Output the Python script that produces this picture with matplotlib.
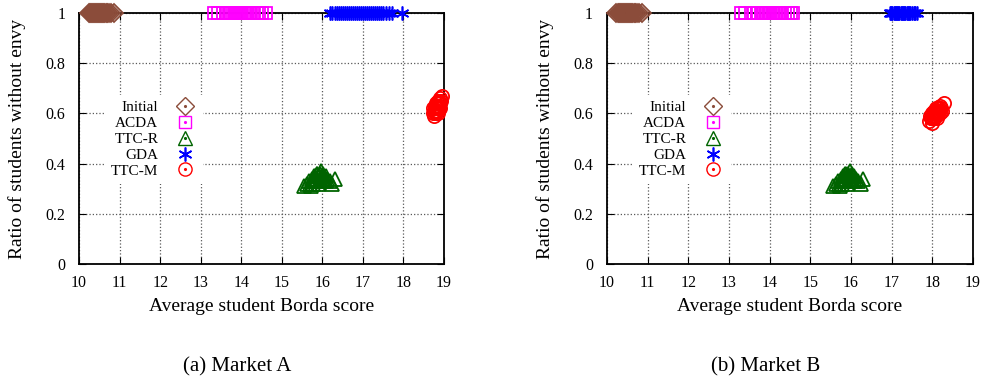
import matplotlib.pyplot as plt
from matplotlib.lines import Line2D
from matplotlib.legend_handler import HandlerTuple
from matplotlib.ticker import FuncFormatter

plt.rcParams['font.family'] = ['Liberation Serif', 'DejaVu Serif']

# ---- data ----
# Market A
initA_x = [10.25, 10.28, 10.3, 10.33, 10.35, 10.38, 10.4, 10.42, 10.45, 10.47, 10.5,
           10.52, 10.55, 10.57, 10.6, 10.62, 10.65, 10.68, 10.7, 10.74, 10.79, 10.86]
acdaA_x = [13.33, 13.42, 13.55, 13.62, 13.68, 13.72, 13.78, 13.82, 13.86, 13.9, 13.95,
           14.0, 14.05, 14.1, 14.15, 14.2, 14.25, 14.3, 14.38, 14.45, 14.52, 14.6]
gdaA_x = [16.2, 16.25, 16.3, 16.35, 16.4, 16.45, 16.5, 16.55, 16.6, 16.65, 16.7, 16.75,
          16.8, 16.85, 16.9, 16.95, 17.0, 17.05, 17.1, 17.15, 17.2, 17.25, 17.3, 17.35,
          17.4, 17.45, 17.5, 17.58, 17.65, 17.72, 17.97]
ttcrA_x = [15.55, 15.62, 15.68, 15.72, 15.75, 15.78, 15.8, 15.82, 15.85, 15.87, 15.9,
           15.92, 15.95, 15.97, 16.0, 16.02, 16.05, 16.08, 16.12, 16.18, 16.25, 16.3,
           15.7, 15.76, 15.83, 15.88, 15.93, 15.98, 16.03, 16.1, 15.79, 15.86, 15.94, 16.01]
ttcrA_y = [0.31, 0.32, 0.33, 0.31, 0.34, 0.32, 0.35, 0.33, 0.34, 0.36, 0.32, 0.35,
           0.33, 0.37, 0.34, 0.36, 0.33, 0.35, 0.34, 0.33, 0.32, 0.34,
           0.32, 0.33, 0.35, 0.34, 0.36, 0.35, 0.34, 0.33, 0.34, 0.36, 0.34, 0.35]
ttcmA_x = [18.72, 18.74, 18.76, 18.77, 18.78, 18.79, 18.8, 18.81, 18.82, 18.83, 18.84,
           18.85, 18.86, 18.87, 18.88, 18.89, 18.9, 18.92, 18.94,
           18.75, 18.78, 18.8, 18.83, 18.85, 18.87, 18.9, 18.8, 18.84, 18.88, 18.82]
ttcmA_y = [0.6, 0.62, 0.59, 0.61, 0.63, 0.6, 0.62, 0.64, 0.61, 0.63, 0.6, 0.65, 0.62,
           0.64, 0.63, 0.66, 0.64, 0.65, 0.67,
           0.61, 0.61, 0.63, 0.62, 0.63, 0.62, 0.62, 0.6, 0.64, 0.65, 0.61]

# Market B
initB_x = [10.22, 10.26, 10.3, 10.33, 10.35, 10.38, 10.4, 10.42, 10.45, 10.47, 10.5,
           10.52, 10.55, 10.57, 10.6, 10.62, 10.65, 10.68, 10.7, 10.74, 10.79, 10.85]
acdaB_x = [13.3, 13.4, 13.55, 13.62, 13.68, 13.72, 13.78, 13.82, 13.86, 13.9, 13.95,
           14.0, 14.05, 14.1, 14.15, 14.2, 14.25, 14.3, 14.38, 14.45, 14.52, 14.58]
gdaB_x = [16.95, 16.98, 17.02, 17.05, 17.08, 17.1, 17.13, 17.16, 17.19, 17.22, 17.25,
          17.28, 17.31, 17.34, 17.37, 17.4, 17.43, 17.46, 17.5, 17.54, 17.58, 17.62]
ttcrB_x = [15.55, 15.62, 15.68, 15.72, 15.75, 15.78, 15.8, 15.82, 15.85, 15.87, 15.9,
           15.92, 15.95, 15.97, 16.0, 16.02, 16.05, 16.08, 16.12, 16.18, 16.25, 16.3,
           15.7, 15.76, 15.83, 15.88, 15.93, 15.98, 16.03, 16.1, 15.79, 15.86, 15.94, 16.01]
ttcrB_y = [0.31, 0.32, 0.33, 0.31, 0.34, 0.32, 0.35, 0.33, 0.34, 0.36, 0.32, 0.35,
           0.33, 0.37, 0.34, 0.36, 0.33, 0.35, 0.34, 0.33, 0.32, 0.34,
           0.32, 0.33, 0.35, 0.34, 0.36, 0.35, 0.34, 0.33, 0.34, 0.36, 0.34, 0.35]
ttcmB_x = [17.92, 17.95, 17.97, 17.99, 18.0, 18.02, 18.03, 18.05, 18.06, 18.08, 18.1,
           18.11, 18.13, 18.15, 18.17, 18.19, 18.22, 18.25, 18.28,
           17.96, 18.0, 18.04, 18.07, 18.1, 18.14, 18.18, 18.02, 18.09, 18.16, 18.12]
ttcmB_y = [0.57, 0.59, 0.58, 0.6, 0.56, 0.59, 0.61, 0.58, 0.6, 0.62, 0.59, 0.61, 0.6,
           0.62, 0.61, 0.63, 0.62, 0.61, 0.64,
           0.58, 0.58, 0.6, 0.59, 0.6, 0.6, 0.6, 0.59, 0.61, 0.62, 0.58]

labels = ['Initial', 'ACDA', 'TTC-R', 'GDA', 'TTC-M']
colors = ['#8b4c3a', '#ff00ff', '#006400', '#0000ff', '#ff0000']
markers = ['D', 's', '^', '*', 'o']

markets = [
    [(initA_x, [1] * len(initA_x)), (acdaA_x, [1] * len(acdaA_x)), (ttcrA_x, ttcrA_y),
     (gdaA_x, [1] * len(gdaA_x)), (ttcmA_x, ttcmA_y)],
    [(initB_x, [1] * len(initB_x)), (acdaB_x, [1] * len(acdaB_x)), (ttcrB_x, ttcrB_y),
     (gdaB_x, [1] * len(gdaB_x)), (ttcmB_x, ttcmB_y)],
]
captions = ['(a) Market A', '(b) Market B']

fig = plt.figure(figsize=(9.88, 3.82), dpi=100)
ax_pos = [[0.080, 0.309, 0.3694, 0.657], [0.6144, 0.309, 0.3704, 0.657]]
cap_x = [0.240, 0.775]


def marker_kw(i, lw=1.3):
    m = markers[i]
    if m == '*':
        # gnuplot style asterisk
        return dict(marker=(6, 2, 0), markersize=10, markeredgewidth=1.2)
    size = {'D': 9, 's': 9, '^': 9.5, 'o': 9.5}[m]
    return dict(marker=m, markersize=size, markerfacecolor='none', markeredgewidth=lw)


for k, data in enumerate(markets):
    ax = fig.add_axes(ax_pos[k])
    for i, (xs, ys) in enumerate(data):
        ax.plot(xs, ys, linestyle='none', color=colors[i], markeredgecolor=colors[i],
                clip_on=False, zorder=3, **marker_kw(i))
    ax.set_xlim(10, 19)
    ax.set_ylim(0, 1)
    ax.set_xticks(range(10, 20))
    ax.set_yticks([0, 0.2, 0.4, 0.6, 0.8, 1.0])
    ax.yaxis.set_major_formatter(FuncFormatter(lambda v, p: '%g' % v))
    ax.tick_params(direction='in', top=True, right=True, length=5, labelsize=11.5)
    ax.tick_params(axis='y', pad=10)
    ax.tick_params(axis='x', pad=8)
    ax.grid(True, linestyle=':', color='0.35', linewidth=0.9)
    for s in ax.spines.values():
        s.set_linewidth(1.3)
    ax.set_xlabel('Average student Borda score', fontsize=14, labelpad=5)
    ax.set_ylabel('Ratio of students without envy', fontsize=14, labelpad=14)

    handles = []
    for i in range(5):
        h1 = Line2D([], [], linestyle='none', color=colors[i], markeredgecolor=colors[i],
                    **marker_kw(i, lw=1.0))
        if markers[i] != '*':
            h2 = Line2D([], [], linestyle='none', marker='.', markersize=2.5, color=colors[i])
            handles.append((h1, h2))
        else:
            handles.append(h1)
    leg = ax.legend(handles, labels, loc='upper left', bbox_to_anchor=(0.05, 0.705),
                    markerfirst=False, frameon=True, fancybox=False, framealpha=1,
                    edgecolor='none', facecolor='white', fontsize=11,
                    handlelength=1.5, handletextpad=1.0, labelspacing=0.14,
                    borderpad=0.4, handler_map={tuple: HandlerTuple(ndivide=1)})
    for t in leg.get_texts():
        t.set_ha('right')
    leg.set_zorder(5)

    fig.text(cap_x[k], 0.015, captions[k], fontsize=15, ha='center', va='bottom')

fig.savefig('out.png', dpi=100)
